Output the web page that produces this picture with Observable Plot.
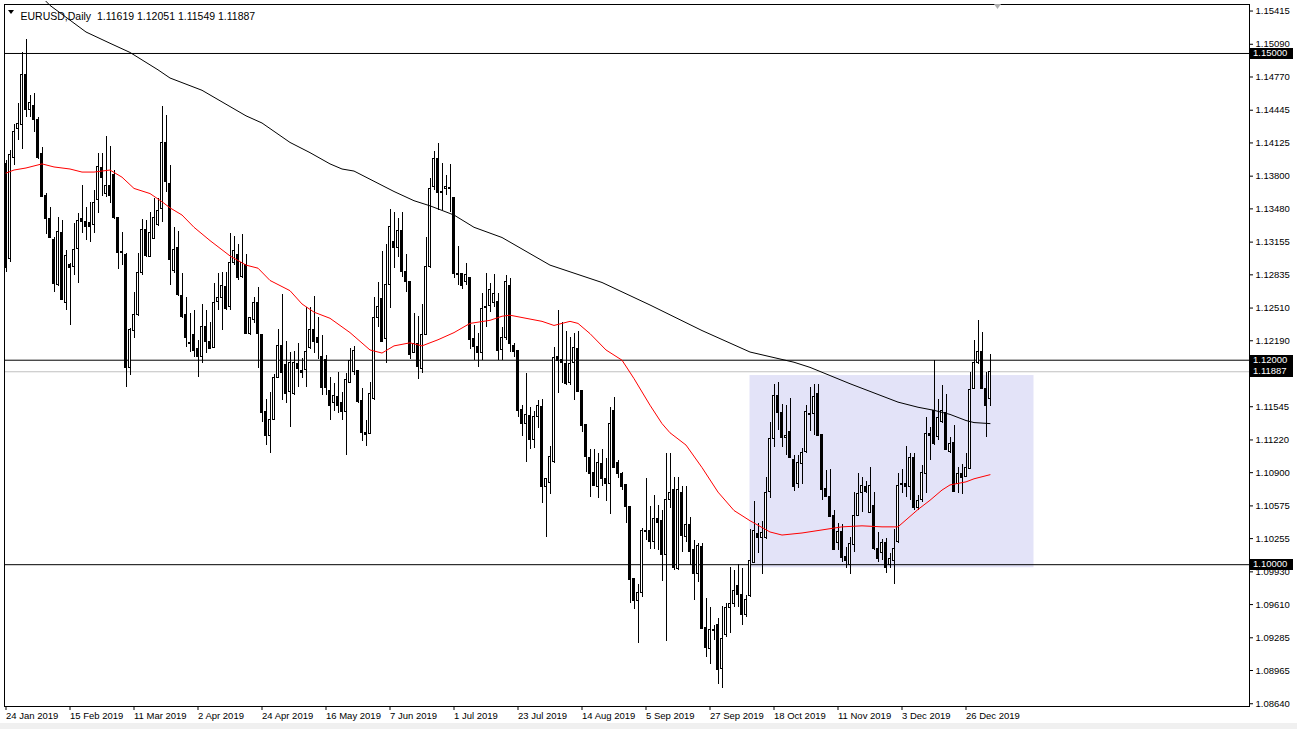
<!DOCTYPE html>
<html><head><meta charset="utf-8">
<script src="https://cdn.jsdelivr.net/npm/d3@7"></script>
<script src="https://cdn.jsdelivr.net/npm/@observablehq/plot@0.6"></script>
<style>
body{margin:0;background:#fff;}
#chart{position:relative;width:1297px;height:729px;overflow:hidden;}
</style>
</head><body><div id="chart"></div>
<script>
// ---- Data (EURUSD Daily, bar index 0 = 24 Jan 2019) ----
const opens = [
1.1392,1.1299,1.1398,1.1426,1.1430,1.1479,1.1445,1.1449,1.1435,1.1402,
1.1361,1.1338,1.1318,1.1274,1.1324,1.1256,1.1293,1.1291,1.1309,1.1338,
1.1335,1.1334,1.1332,1.1357,1.1388,1.1363,1.1370,1.1381,1.1339,1.1306,
1.1303,1.1192,1.1229,1.1244,1.1285,1.1327,1.1301,1.1319,1.1332,1.1348,
1.1412,1.1372,1.1287,1.1310,1.1263,1.1244,1.1217,1.1225,1.1211,1.1203,
1.1232,1.1218,1.1212,1.1257,1.1261,1.1272,1.1252,1.1295,1.1303,1.1281,
1.1293,1.1226,1.1239,1.1256,1.1225,1.1149,1.1126,1.1142,1.1183,1.1214,
1.1195,1.1169,1.1167,1.1196,1.1189,1.1190,1.1212,1.1230,1.1222,1.1203,
1.1200,1.1170,1.1158,1.1164,1.1158,1.1149,1.1178,1.1188,1.1189,1.1160,
1.1129,1.1128,1.1162,1.1241,1.1260,1.1221,1.1274,1.1316,1.1310,1.1326,
1.1286,1.1276,1.1207,1.1216,1.1191,1.1225,1.1291,1.1369,1.1397,1.1365,
1.1367,1.1368,1.1359,1.1284,1.1284,1.1276,1.1280,1.1221,1.1213,1.1207,
1.1251,1.1253,1.1256,1.1257,1.1210,1.1222,1.1273,1.1214,1.1209,1.1151,
1.1138,1.1145,1.1122,1.1144,1.1154,1.1076,1.1080,1.1100,1.1203,1.1200,
1.1196,1.1178,1.1197,1.1211,1.1170,1.1137,1.1104,1.1090,1.1076,1.1098,
1.1084,1.1079,1.1150,1.1099,1.1089,1.1078,1.1056,1.0986,1.0964,1.0972,
1.1032,1.1033,1.1022,1.1045,1.1043,1.1009,1.1063,1.1073,1.0996,1.1070,
1.1027,1.1039,1.1014,1.0991,1.1017,1.0938,1.0918,1.0936,1.0941,1.0898,
1.0931,1.0958,1.0962,1.0979,1.0970,1.0951,1.0969,1.1002,1.1030,1.1026,
1.1026,1.1071,1.1123,1.1165,1.1148,1.1124,1.1130,1.1102,1.1079,1.1098,
1.1110,1.1146,1.1147,1.1167,1.1127,1.1074,1.1066,1.1048,1.1021,1.1032,
1.1008,1.1000,1.1019,1.1048,1.1070,1.1076,1.1051,1.1057,1.1015,1.1011,
1.1021,1.1000,1.1004,1.1022,1.1078,1.1079,1.1076,1.1104,1.1055,1.1063,
1.1089,1.1128,1.1150,1.1125,1.1140,1.1148,1.1110,1.1119,1.1079,1.1089,
1.1086,1.1094,1.1172,1.1197,1.1208,1.1172,1.11619];
const highs = [
1.1395,1.1405,1.1431,1.1451,1.1501,1.1514,1.1459,1.1461,1.1437,1.1408,
1.1363,1.1349,1.1320,1.1340,1.1337,1.1307,1.1295,1.1334,1.1343,1.1371,
1.1349,1.1354,1.1366,1.1402,1.1402,1.1419,1.1409,1.1386,1.1340,1.1325,
1.1304,1.1231,1.1266,1.1304,1.1338,1.1337,1.1344,1.1358,1.1358,1.1448,
1.1439,1.1390,1.1330,1.1326,1.1285,1.1261,1.1246,1.1249,1.1219,1.1254,
1.1249,1.1237,1.1275,1.1285,1.1286,1.1286,1.1324,1.1321,1.1313,1.1323,
1.1303,1.1241,1.1261,1.1271,1.1225,1.1162,1.1168,1.1186,1.1230,1.1264,
1.1218,1.1208,1.1209,1.1216,1.1202,1.1252,1.1252,1.1262,1.1242,1.1224,
1.1205,1.1183,1.1177,1.1188,1.1168,1.1187,1.1211,1.1213,1.1190,1.1172,
1.1141,1.1178,1.1261,1.1276,1.1306,1.1313,1.1347,1.1344,1.1339,1.1344,
1.1303,1.1276,1.1246,1.1243,1.1254,1.1320,1.1378,1.1404,1.1412,1.1392,
1.1381,1.1391,1.1359,1.1311,1.1284,1.1295,1.1280,1.1234,1.1226,1.1265,
1.1285,1.1275,1.1284,1.1265,1.1232,1.1283,1.1280,1.1216,1.1209,1.1156,
1.1187,1.1154,1.1150,1.1161,1.1162,1.1084,1.1116,1.1212,1.1249,1.1237,
1.1228,1.1222,1.1226,1.1228,1.1170,1.1137,1.1113,1.1113,1.1109,1.1113,
1.1104,1.1154,1.1164,1.1102,1.1090,1.1078,1.1056,1.0986,1.0981,1.1035,
1.1084,1.1057,1.1068,1.1058,1.1053,1.1109,1.1109,1.1085,1.1085,1.1076,
1.1076,1.1046,1.1024,1.1021,1.1021,1.0967,1.0958,1.0941,1.0947,1.0959,
1.0962,1.0997,1.0994,1.1000,1.0996,1.0970,1.1034,1.1062,1.1040,1.1042,
1.1085,1.1139,1.1176,1.1178,1.1157,1.1156,1.1163,1.1107,1.1107,1.1114,
1.1156,1.1173,1.1176,1.1176,1.1127,1.1092,1.1093,1.1053,1.1040,1.1039,
1.1017,1.1027,1.1071,1.1089,1.1085,1.1081,1.1095,1.1071,1.1031,1.1025,
1.1026,1.1011,1.1034,1.1089,1.1093,1.1116,1.1109,1.1109,1.1068,1.1097,
1.1144,1.1134,1.1200,1.1162,1.1175,1.1166,1.1124,1.1136,1.1095,1.1098,
1.1109,1.1188,1.1219,1.1239,1.1227,1.1188,1.12051];
const lows = [
1.1286,1.1296,1.1390,1.1415,1.1406,1.1437,1.1437,1.1423,1.1396,1.1359,
1.1323,1.1319,1.1266,1.1272,1.1258,1.1249,1.1234,1.1283,1.1275,1.1324,
1.1317,1.1315,1.1324,1.1343,1.1360,1.1359,1.1353,1.1338,1.1289,1.1293,
1.1173,1.1185,1.1221,1.1243,1.1283,1.1300,1.1300,1.1318,1.1331,1.1335,
1.1364,1.1273,1.1285,1.1262,1.1241,1.1212,1.1208,1.1203,1.1183,1.1197,
1.1207,1.1210,1.1211,1.1249,1.1229,1.1249,1.1249,1.1293,1.1278,1.1280,
1.1226,1.1224,1.1236,1.1192,1.1139,1.1117,1.1109,1.1141,1.1182,1.1161,
1.1158,1.1134,1.1165,1.1173,1.1182,1.1173,1.1210,1.1207,1.1201,1.1165,
1.1165,1.1141,1.1150,1.1148,1.1141,1.1107,1.1177,1.1185,1.1158,1.1120,
1.1116,1.1127,1.1161,1.1232,1.1217,1.1197,1.1251,1.1290,1.1300,1.1281,
1.1266,1.1201,1.1207,1.1181,1.1187,1.1224,1.1290,1.1366,1.1346,1.1346,
1.1361,1.1344,1.1280,1.1273,1.1269,1.1273,1.1210,1.1200,1.1193,1.1200,
1.1232,1.1247,1.1252,1.1200,1.1200,1.1219,1.1208,1.1203,1.1144,1.1125,
1.1100,1.1113,1.1114,1.1133,1.1060,1.1027,1.1069,1.1099,1.1167,1.1177,
1.1175,1.1175,1.1161,1.1168,1.1129,1.1090,1.1066,1.1076,1.1065,1.1076,
1.1062,1.1049,1.1094,1.1084,1.1073,1.1040,1.0962,1.0956,1.0923,1.0968,
1.1024,1.1015,1.1015,1.1014,1.0984,1.0925,1.1055,1.0994,1.0994,1.1012,
1.1022,1.0999,1.0965,1.0983,1.0937,1.0909,1.0902,1.0926,1.0883,1.0879,
1.0929,1.0933,1.0958,1.0958,1.0941,1.0948,1.0968,1.1001,1.1011,1.0990,
1.1025,1.1065,1.1115,1.1131,1.1115,1.1107,1.1104,1.1072,1.1075,1.1078,
1.1109,1.1130,1.1126,1.1126,1.1063,1.1066,1.1046,1.1014,1.1014,1.1002,
1.0996,1.0990,1.1012,1.1047,1.1051,1.1070,1.1050,1.1014,1.1002,1.1004,
1.0991,1.0996,1.0981,1.1021,1.1070,1.1066,1.1063,1.1053,1.1053,1.1061,
1.1070,1.1102,1.1117,1.1121,1.1138,1.1112,1.1109,1.1071,1.1070,1.1069,
1.1085,1.1093,1.1171,1.1196,1.1171,1.1124,1.11549];
const closes = [
1.1290,1.1401,1.1423,1.1431,1.1479,1.1445,1.1452,1.1435,1.1398,1.1360,
1.1338,1.1320,1.1275,1.1325,1.1259,1.1302,1.1290,1.1308,1.1336,1.1335,
1.1330,1.1330,1.1354,1.1389,1.1378,1.1370,1.1361,1.1339,1.1305,1.1305,
1.1192,1.1230,1.1244,1.1285,1.1327,1.1302,1.1324,1.1339,1.1346,1.1412,
1.1374,1.1298,1.1308,1.1264,1.1242,1.1222,1.1216,1.1209,1.1203,1.1232,
1.1218,1.1211,1.1256,1.1261,1.1273,1.1250,1.1295,1.1307,1.1280,1.1295,
1.1226,1.1241,1.1256,1.1226,1.1148,1.1126,1.1142,1.1183,1.1214,1.1187,
1.1167,1.1197,1.1197,1.1191,1.1187,1.1208,1.1230,1.1218,1.1217,1.1173,
1.1173,1.1155,1.1165,1.1155,1.1149,1.1181,1.1199,1.1209,1.1159,1.1129,
1.1127,1.1167,1.1241,1.1252,1.1218,1.1274,1.1330,1.1310,1.1326,1.1286,
1.1276,1.1205,1.1216,1.1193,1.1225,1.1291,1.1367,1.1397,1.1364,1.1364,
1.1369,1.1367,1.1284,1.1283,1.1273,1.1283,1.1220,1.1213,1.1207,1.1250,
1.1252,1.1269,1.1265,1.1209,1.1222,1.1276,1.1216,1.1208,1.1150,1.1138,
1.1146,1.1122,1.1144,1.1155,1.1076,1.1084,1.1105,1.1202,1.1199,1.1197,
1.1177,1.1196,1.1212,1.1169,1.1136,1.1105,1.1089,1.1077,1.1099,1.1084,
1.1079,1.1138,1.1095,1.1089,1.1076,1.1056,1.0985,1.0964,1.0972,1.1033,
1.1033,1.1022,1.1045,1.1041,1.1009,1.1063,1.1070,1.0997,1.1073,1.1028,
1.1039,1.1012,1.0991,1.1018,1.0937,1.0919,1.0936,1.0935,1.0897,1.0927,
1.0958,1.0962,1.0974,1.0970,1.0951,1.0965,1.1004,1.1033,1.1026,1.1031,
1.1070,1.1123,1.1165,1.1148,1.1124,1.1126,1.1104,1.1076,1.1099,1.1109,
1.1149,1.1147,1.1164,1.1126,1.1073,1.1066,1.1047,1.1014,1.1032,1.1007,
1.1004,1.1020,1.1048,1.1069,1.1077,1.1071,1.1077,1.1015,1.1006,1.1021,
1.0997,1.1006,1.1015,1.1077,1.1079,1.1076,1.1104,1.1055,1.1062,1.1090,
1.1128,1.1126,1.1118,1.1143,1.1150,1.1112,1.1118,1.1071,1.1089,1.1085,
1.1095,1.1171,1.1197,1.1208,1.1172,1.1155,1.11887];

// moving averages (bar index, value)
const redIdx = [0,2,5,9,12,16,19,22,26,29,32,36,39,41,44,47,51,56,60,63,66,71,74,77,81,86,91,94,97,101,104,108,112,116,121,124,126,130,134,137,141,143,146,150,154,157,161,164,166,170,174,178,182,186,191,194,199,204,209,214,219,223,228,231,234,236,240,242,246];
const redVal = [1.1383,1.1386,1.1388,1.1392,1.1389,1.1387,1.1384,1.1384,1.1386,1.1379,1.1368,1.1363,1.1355,1.1349,1.1342,1.1330,1.1317,1.1302,1.1293,1.1290,1.1278,1.1268,1.1255,1.1247,1.1241,1.1227,1.1210,1.1207,1.1214,1.1217,1.1214,1.1220,1.1227,1.1236,1.1239,1.1243,1.1244,1.1241,1.1238,1.1234,1.1238,1.1236,1.1226,1.1210,1.1200,1.1182,1.1156,1.1138,1.1129,1.1117,1.1095,1.1071,1.1053,1.1043,1.1032,1.1029,1.1031,1.1034,1.1037,1.1038,1.1037,1.1037,1.1054,1.1063,1.1073,1.1078,1.1081,1.1084,1.1088];
const blackIdx = [10,11,20,26,31,38,41,49,60,64,71,76,81,84,87,97,102,106,112,117,124,136,149,161,174,186,197,201,211,217,223,228,232,236,240,242,246];
const blackVal = [1.1551,1.1547,1.1521,1.1510,1.1501,1.1484,1.1476,1.1464,1.1439,1.1432,1.1413,1.1403,1.1392,1.1387,1.1385,1.1365,1.1356,1.1351,1.1342,1.1330,1.1320,1.1293,1.1276,1.1254,1.1229,1.1208,1.1198,1.1193,1.1177,1.1168,1.1159,1.1154,1.1151,1.1147,1.1141,1.1139,1.1138];

const levels = [1.15, 1.12, 1.10];
const bidPrice = 1.11887;
const zoneX = [186, 257];
const zoneY = [1.0997, 1.1185];

const dateTickIdx = [0,16,32,48,64,80,96,112,128,144,160,176,192,208,224,240];
const dateLabels = ["24 Jan 2019","15 Feb 2019","11 Mar 2019","2 Apr 2019","24 Apr 2019","16 May 2019","7 Jun 2019","1 Jul 2019","23 Jul 2019","14 Aug 2019","5 Sep 2019","27 Sep 2019","18 Oct 2019","11 Nov 2019","3 Dec 2019","26 Dec 2019"];
const priceTicks = [1.15415,1.15090,1.14770,1.14445,1.14125,1.13800,1.13480,1.13155,1.12835,1.12510,1.12190,1.11545,1.11220,1.10900,1.10575,1.10255,1.09930,1.09610,1.09285,1.08965,1.08640];
const boxedPrices = [1.15, 1.12, 1.11887, 1.10];
const headerText = "EURUSD,Daily  1.11619 1.12051 1.11549 1.11887";

// ---- build ----
const candles = opens.map((o, i) => ({i, o, h: highs[i], l: lows[i], c: closes[i]}));
const bulls = candles.filter(d => d.c >= d.o);
const bears = candles.filter(d => d.c < d.o);
const red = redIdx.map((x, k) => ({x, y: redVal[k]}));
const blk = blackIdx.map((x, k) => ({x, y: blackVal[k]}));
const zone = [{x1: zoneX[0], x2: zoneX[1], y1: zoneY[0], y2: zoneY[1]}];

const FONT = "'Liberation Sans', Arial, sans-serif";
const W = 1297, H = 729;
const plot = Plot.plot({
  width: W, height: H,
  marginLeft: 4, marginRight: 48, marginTop: 4, marginBottom: 23,
  style: {fontFamily: FONT, fontSize: "10px", background: "white", color: "black", overflow: "visible"},
  x: {type: "linear", domain: [0, 246], range: [5.5, 989.5]},
  y: {domain: [1.08613, 1.15479]},
  marks: [
    Plot.rect(zone, {x1: "x1", x2: "x2", y1: "y1", y2: "y2", fill: "#e3e3f8"}),
    Plot.ruleY([bidPrice], {stroke: "#c0c0c0"}),
    Plot.ruleY(levels, {stroke: "black"}),
    Plot.ruleX(candles, {x: "i", y1: "l", y2: "h", stroke: "black", shapeRendering: "crispEdges"}),
    Plot.rect(bulls, {x1: d => d.i - 0.25, x2: d => d.i + 0.25, y1: "o", y2: "c", fill: "white", stroke: "black", shapeRendering: "crispEdges"}),
    Plot.rect(bears, {x1: d => d.i - 0.25, x2: d => d.i + 0.25, y1: "o", y2: "c", fill: "black", stroke: "black", shapeRendering: "crispEdges"}),
    Plot.line(red, {x: "x", y: "y", stroke: "#ff0000", strokeWidth: 1}),
    Plot.line(blk, {x: "x", y: "y", stroke: "black", strokeWidth: 1}),
    Plot.frame({stroke: "black"}),
    Plot.axisY({anchor: "right", ticks: priceTicks, tickFormat: d => d.toFixed(5), tickSize: 3, tickPadding: 3, fontSize: 9.5}),
    Plot.axisX({ticks: dateTickIdx, tickFormat: d => dateLabels[dateTickIdx.indexOf(d)], textAnchor: "start", tickSize: 4, tickPadding: 2, dx: 0, fontSize: 9.5}),
    Plot.text([headerText], {text: d => d, frameAnchor: "top-left", dx: 16, dy: 8, textAnchor: "start", fontSize: 10.5})
  ]
});

document.getElementById("chart").appendChild(plot);

// price boxes on the right axis, placed with the plot's own y scale
const ys = plot.scale("y");
const svg = d3.select(plot);
const g = svg.append("g").attr("text-anchor", "start");
for (const v of boxedPrices) {
  const yy = Math.round(ys.apply(v));
  g.append("rect").attr("x", 1250).attr("y", yy - 5).attr("width", 43).attr("height", 11).attr("fill", "black");
  g.append("text").attr("x", 1253).attr("y", yy).attr("dy", "0.36em").attr("fill", "white")
    .attr("font-size", 9.5).attr("font-family", FONT).text(v.toFixed(5));
}
// header marker triangle, chart shift marker, window bottom strip
g.append("path").attr("d", "M8,10 L14,10 L11,14 Z").attr("fill", "black");
g.append("path").attr("d", "M994,4 L1001,4 L997.5,9 Z").attr("fill", "#b0b0b0");
g.append("rect").attr("x", 0).attr("y", 723).attr("width", W).attr("height", 6).attr("fill", "#f0f0f0");
</script>
</body></html>
